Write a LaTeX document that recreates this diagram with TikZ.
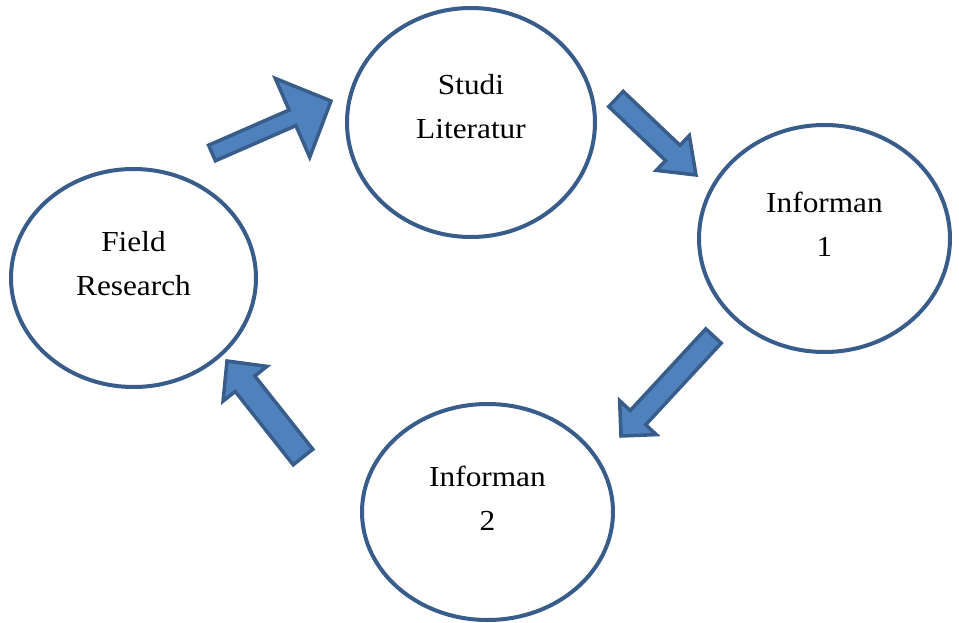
\documentclass[tikz,border=0pt]{standalone}
\usepackage{fontspec}
\setmainfont{Liberation Serif}[FakeStretch=1.08]
\usetikzlibrary{shapes.geometric,calc}
\definecolor{edgeblue}{HTML}{385D8A}
\definecolor{fillblue}{HTML}{4F81BD}
\tikzset{
  bubble/.style={ellipse, draw=edgeblue, line width=4pt, fill=white, inner sep=0pt},
  lbl/.style={align=center, anchor=base, inner sep=0pt, font=\fontsize{29}{44}\selectfont},
  barrow/.style={draw=edgeblue, fill=fillblue, line width=3.5pt, line join=miter},
}
\newcommand\blockarr[5]{%
  \coordinate (ba) at ($(#2)!#5!(#1)$);
  \draw[barrow] ($(#1)!#3!90:(#2)$) -- ($(ba)!#3!90:(#2)$) -- ($(ba)!#4!90:(#2)$) -- (#2)
    -- ($(ba)!#4!-90:(#2)$) -- ($(ba)!#3!-90:(#2)$) -- ($(#1)!#3!-90:(#2)$) -- cycle;}
\begin{document}
\begin{tikzpicture}[x=1pt,y=-1pt]
\useasboundingbox (0,0) rectangle (959,623);
% ellipses
\node[bubble, minimum width=248pt, minimum height=229pt] (studi) at (471,122.5) {};
\node[bubble, minimum width=245pt, minimum height=218pt] (field) at (133.5,278) {};
\node[bubble, minimum width=251pt, minimum height=227pt] (inf1) at (824.5,238.5) {};
\node[bubble, minimum width=251pt, minimum height=216pt] (inf2) at (487.5,512) {};
% labels (anchor = baseline of last line)
\node[lbl] (tstudi) at ($(studi.center)+(0,16.5)$) {Studi\\Literatur};
\node[lbl] (tfield) at ($(field.center)+(0,17)$) {Field\\Research};
\node[lbl] (tinf1) at ($(inf1.center)+(0,17.5)$) {Informan\\1};
\node[lbl] (tinf2) at ($(inf2.center)+(0,18)$) {Informan\\2};
% block arrows
\coordinate (a1t) at (212,153);   \coordinate (a1h) at (331,101);
\coordinate (a2t) at (616,99);    \coordinate (a2h) at (696,175);
\coordinate (a3t) at (713.5,336); \coordinate (a3h) at (621,436);
\coordinate (a4t) at (303,457);   \coordinate (a4h) at (227,361);
\blockarr{a1t}{a1h}{8.5pt}{43pt}{42pt}
\blockarr{a2t}{a2h}{10.5pt}{24pt}{32pt}
\blockarr{a3t}{a3h}{10.5pt}{25pt}{25pt}
\blockarr{a4t}{a4h}{12.5pt}{28pt}{29pt}
\end{tikzpicture}
\end{document}
